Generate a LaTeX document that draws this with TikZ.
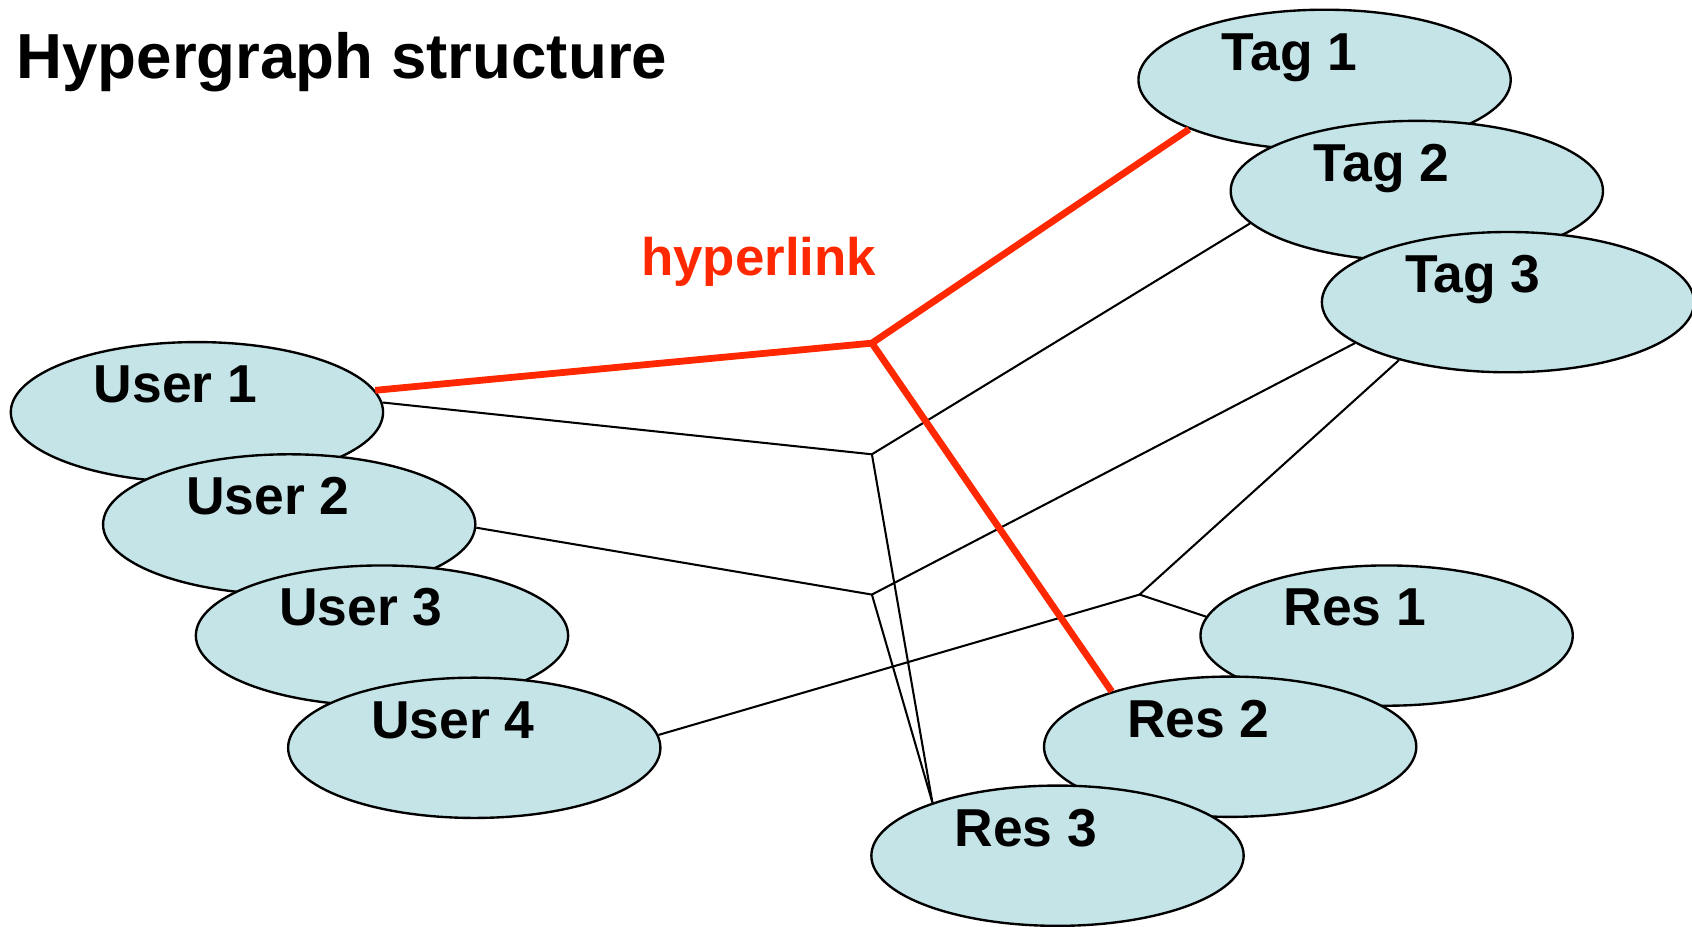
\documentclass[tikz,border=0pt]{standalone}
\usepackage{fontspec}
\setmainfont{Liberation Sans}
\usetikzlibrary{shapes.geometric}
\definecolor{nodefill}{RGB}{197,228,232}
\definecolor{linkred}{RGB}{255,40,0}
\begin{document}
\begin{tikzpicture}[x=1pt,y=-1pt,
  blob/.style={ellipse, draw=black, line width=2.2pt, fill=nodefill,
    minimum width=345pt, minimum height=130pt, inner sep=0pt},
  lbl/.style={anchor=base west, inner sep=0pt,
    font=\fontsize{49.5}{49.5}\selectfont\bfseries},
  thinedge/.style={line width=1.9pt, black},
  hyper/.style={line width=6.3pt, linkred},
]
\useasboundingbox (0,0) rectangle (1568,859);

% title
\node[anchor=base west, inner sep=0pt, font=\fontsize{59}{59}\selectfont\bfseries]
  (title) at (15,73) {Hypergraph structure};

% tags (each one drawn over the previous)
\node[blob] (t1) at (1227.5,74) {};
\node[lbl] (t1t) at ([shift={(78,-9)}]t1.west) {Tag 1};
\node[blob] (t2) at (1313,177) {};
\node[lbl] (t2t) at ([shift={(78,-9)}]t2.west) {Tag 2};
\node[blob] (t3) at (1397.5,280) {};
\node[lbl] (t3t) at ([shift={(78,-9)}]t3.west) {Tag 3};

% users
\node[blob] (u1) at (182.5,382) {};
\node[lbl] (u1t) at ([shift={(78,-9)}]u1.west) {User 1};
\node[blob] (u2) at (268,486) {};
\node[lbl] (u2t) at ([shift={(78,-9)}]u2.west) {User 2};
\node[blob] (u3) at (354,589) {};
\node[lbl] (u3t) at ([shift={(78,-9)}]u3.west) {User 3};
\node[blob] (u4) at (439.5,693) {};
\node[lbl] (u4t) at ([shift={(78,-9)}]u4.west) {User 4};

% resources
\node[blob] (r1) at (1285,589) {};
\node[lbl] (r1t) at ([shift={(78,-9)}]r1.west) {Res 1};
\node[blob] (r2) at (1140,692) {};
\node[lbl] (r2t) at ([shift={(78,-9)}]r2.west) {Res 2};
\node[blob] (r3) at (980,793) {};
\node[lbl] (r3t) at ([shift={(78,-9)}]r3.west) {Res 3};

% hyperedge junctions
\coordinate (jr) at (808,318);
\coordinate (ja) at (808,421);
\coordinate (jb) at (808,551);
\coordinate (jc) at (1056,551);

% ordinary hyperedges
\draw[thinedge] (u1.3.7) -- (ja) -- (t2.191.5);
\draw[thinedge] (ja) -- (r3.157.9);
\draw[thinedge] (u2.359.3) -- (jb) -- (t3.195.2);
\draw[thinedge] (jb) -- (r3.157.9);
\draw[thinedge] (u4.4) -- (jc) -- (t3.208.5);
\draw[thinedge] (jc) -- (r1.174.6);

% highlighted hyperlink
\draw[hyper] (u1.7.8) -- (jr) -- (t1.200.3);
\draw[hyper] (jr) -- (r2.155.5);
\node[anchor=base west, inner sep=0pt, text=linkred,
  font=\fontsize{49}{49}\selectfont\bfseries] (hl) at (594,255) {hyperlink};

\end{tikzpicture}
\end{document}
